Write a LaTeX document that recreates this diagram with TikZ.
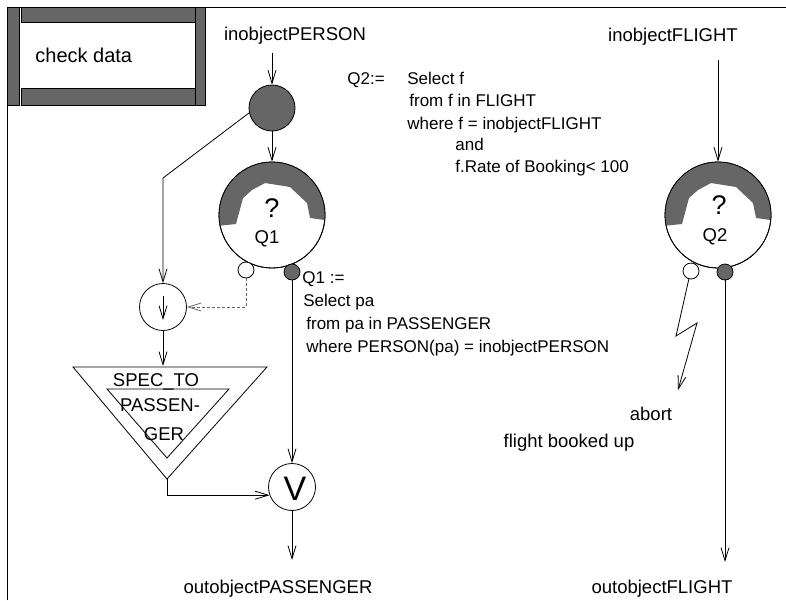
\documentclass[tikz,border=0pt]{standalone}
\usepackage{fontspec}
\setmainfont{Liberation Sans}
\usetikzlibrary{arrows.meta}
\definecolor{dk}{HTML}{666666}
\begin{document}
\begin{tikzpicture}[x=1pt,y=1pt,line width=0.8pt,
  arr/.style={-{Straight Barb[length=13pt,width=8pt,line width=0.8pt]}},
  lbl/.style={font=\fontsize{18.5}{22}\selectfont,inner sep=0pt,anchor=base},
  qm/.style={font=\fontsize{27}{27}\selectfont,inner sep=0pt,anchor=base},
  qtxt/.style={font=\fontsize{17}{22}\selectfont,inner sep=0pt,anchor=base west},
  qc/.style={circle,draw,fill=white,minimum size=106pt,inner sep=0pt},
  sc/.style={circle,draw,minimum size=16pt,inner sep=0pt},
  bar/.style={fill=dk,draw=black}]
\useasboundingbox (0,0) rectangle (786,-600);
% frame
\draw (7,-600) -- (7,-7) -- (786,-7);
% check data box
\draw[bar] (7,-7) rectangle (19.5,-105);
\draw[bar] (21.5,-7) rectangle (195,-22.5);
\draw[bar] (21.5,-88) rectangle (195,-105);
\draw[bar] (195,-7) rectangle (205,-105);
\node[font=\fontsize{20}{24}\selectfont,inner sep=0pt,anchor=base west] (chk) at (35,-62) {check data};

% ---------- left part ----------
\node[lbl] (inP) at (295,-40) {inobjectPERSON};
\coordinate (inPa) at (272,-53);
\node[circle,draw,fill=dk,minimum size=46pt,inner sep=0pt] (dc) at (272,-108) {};
\draw[arr] (inPa) -- (dc.north);

% Q1 decision circle
\node[qc] (q1) at (272,-215) {};
\begin{scope}
  \clip (q1.center) circle[radius=53pt];
  \fill[dk,shift={(q1.center)}] (-60,-11.5) -- (-36,-9) -- (-29,17) -- (-20,25) -- (-7,32)
     -- (18,28) -- (35,12) -- (38,-3) -- (60,-6) -- (60,60) -- (-60,60) -- cycle;
\end{scope}
\draw (q1.center) circle[radius=53pt];
\node[qm] (q1m) at (272,-217) {?};
\node[lbl] (q1l) at (267,-243) {Q1};
\draw[arr] (dc.south) -- (q1.north);

\node[sc,fill=white] (q1w) at (246,-270) {};
\node[sc,fill=dk] (q1d) at (292,-272) {};

% Q1 definition
\node[qtxt] (q1t0) at (302,-283) {Q1 :=};
\node[qtxt] (q1t1) at (303,-306) {Select pa};
\node[qtxt] (q1t2) at (306,-329) {from pa in PASSENGER};
\node[qtxt] (q1t3) at (306,-352) {where PERSON(pa) = inobjectPERSON};

% left branch
\node[circle,draw,minimum size=47pt,inner sep=0pt] (jc) at (163,-307) {};
\coordinate (bend1) at (163,-178);
\draw[arr] (dc.192) -- (bend1) -- (jc.north);
\coordinate (jca) at (163,-296);
\coordinate (jcb) at (163,-320);
\draw[arr] (jca) -- (jcb);
\draw[arr,dk,dash pattern=on 2.5pt off 2.5pt] (q1w.south) |- (jc.east);

% triangle
\coordinate (tritop) at (163,-366);
\coordinate (triapex) at (167,-479);
\draw (73,-367) -- (267,-367) -- (triapex) -- cycle;
\draw (107,-389) -- (229,-389) -- (167,-458) -- cycle;
\draw[arr] (jc.south) -- (tritop);
\node[lbl] (sp1) at (156,-386) {SPEC\_TO};
\node[lbl] (sp2) at (160,-411) {PASSEN-};
\node[lbl] (sp3) at (164,-440) {GER};

% V junction
\node[circle,draw,minimum size=47pt,inner sep=0pt] (vc) at (292,-487) {};
\node[font=\fontsize{34}{34}\selectfont,inner sep=0pt] (vl) at (295,-489) {V};
\draw[arr] (q1d.south) -- (vc.north);
\draw[arr] (triapex) |- (vc.200);
\node[lbl] (outP) at (278,-593) {outobjectPASSENGER};
\coordinate (outPa) at (292,-560);
\draw[arr] (vc.south) -- (outPa);

% ---------- Q2 definition ----------
\node[qtxt] (q2t0) at (347,-84) {Q2:=};
\node[qtxt] (q2t1) at (407,-84) {Select f};
\node[qtxt] (q2t2) at (409,-106) {from f in FLIGHT};
\node[qtxt] (q2t3) at (407,-129) {where f = inobjectFLIGHT};
\node[qtxt] (q2t4) at (455,-150) {and};
\node[qtxt] (q2t5) at (455,-172) {f.Rate of Booking< 100};

% ---------- right part ----------
\node[lbl] (inF) at (673,-41) {inobjectFLIGHT};
\coordinate (inFa) at (718,-60);
\node[qc] (q2) at (718,-215) {};
\begin{scope}
  \clip (q2.center) circle[radius=53pt];
  \fill[dk,shift={(q2.center)}] (-60,-11.5) -- (-36,-9) -- (-29,17) -- (-20,25) -- (-7,32)
     -- (18,28) -- (35,12) -- (38,-3) -- (60,-6) -- (60,60) -- (-60,60) -- cycle;
\end{scope}
\draw (q2.center) circle[radius=53pt];
\node[qm] (q2m) at (719,-214) {?};
\node[lbl] (q2l) at (715,-241) {Q2};
\draw[arr] (inFa) -- (q2.north);

\node[sc,fill=white] (q2w) at (691,-271) {};
\node[sc,fill=dk] (q2d) at (725,-272) {};

\coordinate (l1) at (676,-336);
\coordinate (l2) at (697,-323);
\coordinate (l3) at (678,-390);
\draw[arr] (q2w.255) -- (l1) -- (l2) -- (l3);
\node[lbl] (abort) at (651,-420) {abort};
\node[lbl] (fbu) at (569,-447) {flight booked up};

\coordinate (outFa) at (725,-562);
\draw[arr] (q2d.south) -- (outFa);
\node[lbl] (outF) at (662,-593) {outobjectFLIGHT};
\end{tikzpicture}
\end{document}
